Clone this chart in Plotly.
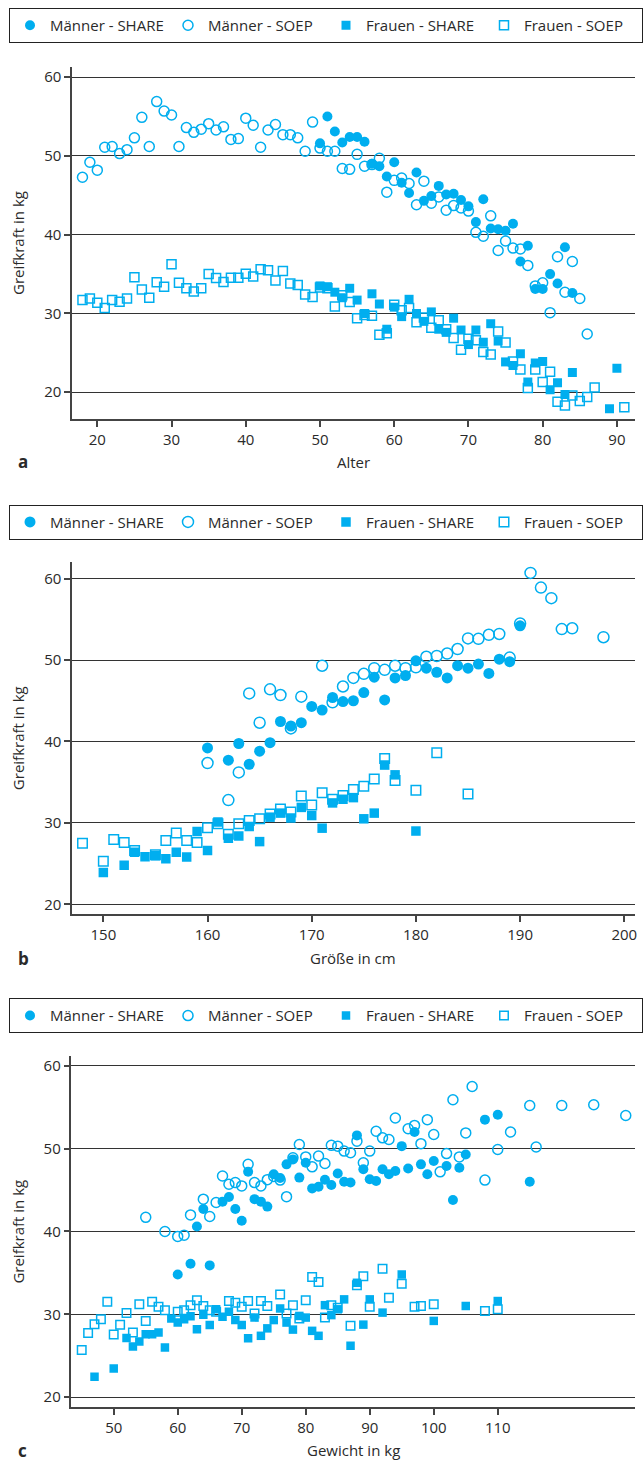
import plotly.graph_objects as go

W, H = 643, 1464
CYAN = '#00aeef'
FONT = 'Open Sans, Noto Sans, sans-serif'
TXT = '#2a2a2a'

# ---------------- Panel a: Alter ----------------
age_m_share = [50, 51, 52, 53, 54, 55, 56, 57, 58, 59, 60, 61, 62, 63, 64, 65, 66, 67,
               68, 69, 70, 71, 72, 73, 74, 75, 76, 77, 78, 79, 80, 81, 82, 83, 84]
grip_age_m_share = [51.6, 55.0, 53.1, 51.7, 52.4, 52.4, 51.8, 49.0, 48.7, 47.4, 49.2, 46.6,
                    45.3, 47.9, 44.3, 44.9, 46.2, 45.1, 45.2, 44.4, 43.6, 41.6, 44.5, 40.8,
                    40.7, 40.5, 41.4, 36.6, 38.6, 33.1, 33.1, 35.0, 33.8, 38.4, 32.6]
age_m_soep = list(range(18, 87))
grip_age_m_soep = [47.3, 49.2, 48.2, 51.1, 51.2, 50.3, 50.8, 52.3, 54.9, 51.2, 56.9, 55.7,
                   55.2, 51.2, 53.6, 53.0, 53.4, 54.1, 53.3, 53.7, 52.1, 52.2, 54.8, 53.9,
                   51.1, 53.3, 54.0, 52.7, 52.7, 52.3, 50.6, 54.3, 51.0, 50.6, 50.6, 48.4,
                   48.3, 50.2, 48.7, 48.9, 49.7, 45.4, 46.9, 47.2, 46.5, 43.8, 46.8, 44.0,
                   44.8, 43.1, 43.7, 43.4, 43.0, 40.3, 39.8, 42.4, 38.0, 39.2, 38.3, 38.2,
                   36.1, 33.5, 33.9, 30.1, 37.2, 32.7, 36.6, 31.9, 27.4]
age_w_share = [50, 51, 52, 53, 54, 55, 56, 57, 58, 59, 60, 61, 62, 63, 64, 65, 66, 67, 68,
               69, 70, 71, 72, 73, 74, 75, 76, 77, 78, 79, 80, 81, 82, 83, 84, 89, 90]
grip_age_w_share = [33.5, 33.4, 32.7, 32.0, 33.2, 31.7, 30.0, 32.5, 31.2, 28.0, 30.8, 29.6,
                    31.8, 30.0, 29.0, 30.2, 28.0, 27.6, 29.4, 27.9, 26.05, 27.9, 26.35, 28.7,
                    26.5, 23.85, 23.4, 24.9, 21.3, 23.7, 23.9, 20.3, 21.2, 19.7, 22.5, 17.9,
                    23.05]
age_w_soep = list(range(18, 88)) + [91]
grip_age_w_soep = [31.7, 31.9, 31.35, 30.7, 31.7, 31.5, 31.9, 34.6, 33.05, 32.0, 33.95, 33.4,
                   36.25, 33.9, 33.2, 32.8, 33.2, 35.0, 34.5, 34.0, 34.55, 34.55, 35.05, 34.7,
                   35.6, 35.5, 34.2, 35.4, 33.8, 33.6, 32.4, 32.1, 33.3, 33.2, 30.9, 32.3,
                   31.45, 29.4, 29.8, 29.7, 27.3, 27.5, 31.1, 30.4, 30.7, 28.9, 29.5, 28.2,
                   29.15, 28.0, 26.9, 25.4, 26.8, 26.6, 25.1, 24.8, 27.7, 26.3, 23.9, 22.9,
                   20.55, 22.9, 21.3, 22.6, 18.8, 18.3, 19.6, 18.9, 19.4, 20.6, 18.1]

# ---------------- Panel b: Größe ----------------
hgt_m_share = [160, 162, 163, 164, 165, 166, 167, 168, 169, 170, 171, 172, 173, 174, 175,
               176, 177, 178, 179, 180, 181, 182, 183, 184, 185, 186, 187, 188, 189, 190]
grip_hgt_m_share = [39.2, 37.7, 39.75, 37.2, 38.8, 39.85, 42.45, 41.9, 42.3, 44.3, 43.85,
                    45.4, 44.9, 45.0, 46.0, 47.9, 45.1, 47.8, 48.1, 49.9, 49.0, 48.5, 47.8,
                    49.3, 49.0, 49.5, 48.35, 50.1, 49.8, 54.2]
hgt_m_soep = [160, 162, 163, 164, 165, 166, 167, 168, 169, 171, 172, 173, 174, 175, 176, 177,
              178, 179, 180, 181, 182, 183, 184, 185, 186, 187, 188, 189, 190, 191, 192, 193,
              194, 195, 198]
grip_hgt_m_soep = [37.35, 32.8, 36.2, 45.9, 42.3, 46.4, 45.7, 41.6, 45.5, 49.3, 44.8, 46.75,
                   47.8, 48.3, 49.0, 48.8, 49.3, 49.0, 49.1, 50.4, 50.5, 50.8, 51.35, 52.65,
                   52.6, 53.1, 53.2, 50.3, 54.5, 60.7, 58.9, 57.6, 53.8, 53.9, 52.8]
hgt_w_share = [150, 152, 153, 154, 155, 156, 157, 158, 159, 160, 161, 162, 163, 164, 165,
               166, 167, 168, 169, 170, 171, 172, 173, 174, 175, 176, 177, 178, 180]
grip_hgt_w_share = [23.9, 24.8, 26.4, 25.85, 25.95, 25.6, 26.4, 25.8, 28.95, 26.6, 30.1,
                    28.1, 28.4, 29.55, 27.7, 30.7, 31.2, 30.6, 31.9, 30.9, 29.35, 32.45, 32.9,
                    33.1, 30.5, 31.2, 37.1, 35.9, 29.0]
hgt_w_soep = [148, 150, 151, 152, 153, 155, 156, 157, 158, 159, 160, 161, 162, 163, 164, 165,
              166, 167, 168, 169, 170, 171, 172, 173, 174, 175, 176, 177, 178, 180, 182, 185]
grip_hgt_w_soep = [27.5, 25.3, 27.95, 27.6, 26.6, 26.1, 27.85, 28.75, 27.85, 27.6, 29.4, 29.9,
                   28.6, 29.9, 30.3, 30.5, 31.1, 31.7, 31.35, 33.3, 32.2, 33.7, 32.9, 33.35,
                   34.1, 34.5, 35.4, 37.9, 35.2, 34.0, 38.6, 33.55]

# ---------------- Panel c: Gewicht ----------------
wgt_m_share = [60, 62, 63, 64, 65, 67, 68, 69, 70, 71, 72, 73, 74, 75, 76, 77, 78, 79, 80,
               81, 82, 83, 84, 85, 86, 87, 88, 89, 90, 91, 92, 93, 94, 95, 96, 97, 98, 99,
               100, 102, 103, 104, 105, 108, 110, 115]
grip_wgt_m_share = [34.8, 36.1, 40.6, 42.7, 35.9, 43.6, 44.15, 42.7, 41.3, 47.2, 43.9, 43.6,
                    43.0, 46.9, 46.45, 48.1, 48.7, 46.5, 48.3, 45.2, 45.4, 46.25, 45.6, 47.0,
                    46.0, 45.9, 51.6, 47.5, 46.3, 46.1, 47.5, 46.9, 47.3, 50.3, 47.6, 52.0,
                    48.1, 46.9, 48.5, 47.9, 43.8, 47.7, 49.3, 53.5, 54.1, 46.0]
wgt_m_soep = [55, 58, 60, 61, 62, 64, 65, 66, 67, 68, 69, 70, 71, 72, 73, 74, 75, 76, 77, 78,
              79, 80, 81, 82, 83, 84, 85, 86, 87, 88, 89, 90, 91, 92, 93, 94, 96, 97, 98, 99,
              100, 101, 102, 103, 104, 105, 106, 108, 110, 112, 115, 116, 120, 125, 130]
grip_wgt_m_soep = [41.7, 40.0, 39.4, 39.55, 42.0, 43.9, 41.8, 43.5, 46.7, 45.7, 45.9, 45.5,
                   48.1, 45.9, 45.5, 46.25, 46.65, 46.2, 44.2, 48.9, 50.5, 49.0, 47.8, 49.1,
                   48.2, 50.4, 50.3, 49.7, 49.5, 50.9, 48.3, 49.7, 52.1, 51.3, 51.1, 53.7,
                   52.4, 52.8, 50.6, 53.5, 51.7, 47.2, 49.4, 55.9, 49.0, 51.9, 57.5, 46.2,
                   49.9, 52.0, 55.2, 50.2, 55.2, 55.3, 54.0]
wgt_w_share = [47, 50, 52, 53, 54, 55, 56, 57, 58, 59, 60, 61, 62, 63, 64, 65, 66, 67, 68,
               69, 70, 71, 72, 73, 74, 75, 76, 77, 78, 79, 80, 81, 82, 83, 84, 85, 86, 87,
               88, 89, 90, 92, 95, 100, 105, 110]
grip_wgt_w_share = [22.45, 23.45, 27.15, 26.1, 26.7, 27.6, 27.6, 27.8, 26.0, 29.5, 29.0, 29.4,
                    29.75, 28.2, 29.95, 28.7, 30.6, 29.7, 30.3, 29.3, 28.7, 27.1, 29.6, 27.4,
                    28.3, 29.3, 30.7, 29.0, 28.15, 29.8, 29.6, 28.0, 27.4, 31.1, 29.9, 30.6,
                    31.8, 26.2, 33.8, 28.75, 31.8, 30.2, 34.8, 29.2, 31.0, 31.6]
wgt_w_soep = [45, 46, 47, 48, 49, 50, 51, 52, 53, 54, 55, 56, 57, 58, 60, 61, 62, 63, 64, 65,
              66, 68, 69, 70, 71, 72, 73, 74, 76, 77, 78, 79, 80, 81, 82, 83, 84, 85, 87, 88,
              89, 90, 92, 93, 95, 97, 98, 100, 108, 110]
grip_wgt_w_soep = [25.7, 27.75, 28.8, 29.4, 31.5, 27.55, 28.75, 30.15, 27.8, 31.2, 29.2, 31.5,
                   30.9, 30.5, 30.3, 30.5, 31.1, 31.7, 31.0, 30.5, 30.3, 31.6, 31.4, 30.9,
                   31.6, 30.1, 31.6, 31.0, 32.4, 30.1, 31.1, 29.5, 31.7, 34.5, 33.9, 29.6,
                   31.1, 30.8, 28.6, 33.5, 34.6, 30.9, 35.5, 32.0, 33.7, 30.9, 31.0, 31.2,
                   30.4, 30.6]

series_names = ['Männer - SHARE', 'Männer - SOEP', 'Frauen - SHARE', 'Frauen - SOEP']
y_ticks = [20, 30, 40, 50, 60]
x_ticks_a = [20, 30, 40, 50, 60, 70, 80, 90]
x_ticks_b = [150, 160, 170, 180, 190, 200]
x_ticks_c = [50, 60, 70, 80, 90, 100, 110]
x_titles = ['Alter', 'Größe in cm', 'Gewicht in kg']
panel_letters = ['a', 'b', 'c']
y_title = 'Greifkraft in kg'


def fx(px):
    return px / W


def fy(py):
    return 1 - py / H


panels = [
    dict(data=[(age_m_share, grip_age_m_share), (age_m_soep, grip_age_m_soep),
               (age_w_share, grip_age_w_share), (age_w_soep, grip_age_w_soep)],
         xdom=(72.3, 636.7), ydom=(66, 418.3), xr=[16.6, 92.4], yr=[16.6, 61.3],
         xt=x_ticks_a, csize=10, ssize=9, leg_top=7, title_y=461),
    dict(data=[(hgt_m_share, grip_hgt_m_share), (hgt_m_soep, grip_hgt_m_soep),
               (hgt_w_share, grip_hgt_w_share), (hgt_w_soep, grip_hgt_w_soep)],
         xdom=(72.3, 636.7), ydom=(561.7, 913.7), xr=[147.0, 201.0], yr=[18.8, 62.0],
         xt=x_ticks_b, csize=11, ssize=9.5, leg_top=504, title_y=958),
    dict(data=[(wgt_m_share, grip_wgt_m_share), (wgt_m_soep, grip_wgt_m_soep),
               (wgt_w_share, grip_wgt_w_share), (wgt_w_soep, grip_wgt_w_soep)],
         xdom=(71.7, 636.7), ydom=(1056, 1407), xr=[43.4, 131.4], yr=[18.8, 61.15],
         xt=x_ticks_c, csize=10, ssize=8.5, leg_top=998, title_y=1450),
]

symbols = ['circle', 'circle-open', 'square', 'square-open']
ranks = [1, 2, 3, 4]
draw_order = [1, 3, 0, 2]  # SOEP first, SHARE on top

fig = go.Figure()
layout = dict(
    width=W, height=H, margin=dict(l=0, r=0, t=0, b=0),
    paper_bgcolor='white', plot_bgcolor='white',
    font=dict(family=FONT, size=15, color=TXT),
    annotations=[],
)

for i, p in enumerate(panels):
    sfx = '' if i == 0 else str(i + 1)
    leg = 'legend' if i == 0 else f'legend{i + 1}'
    for k in draw_order:
        xs, ys = p['data'][k]
        size = p['csize'] if k < 2 else p['ssize']
        fig.add_trace(go.Scatter(
            x=xs, y=ys, mode='markers', name=series_names[k],
            xaxis='x' + sfx, yaxis='y' + sfx, legend=leg, legendrank=ranks[k],
            marker=dict(symbol=symbols[k], size=size, color=CYAN,
                        line=dict(color=CYAN, width=1.5 if 'open' in symbols[k] else 0)),
            hoverinfo='x+y',
        ))
    layout['xaxis' + sfx] = dict(
        domain=[fx(p['xdom'][0]), fx(p['xdom'][1])], range=p['xr'],
        anchor='y' + sfx, showline=True, linecolor='#444', linewidth=1.5,
        ticks='outside', ticklen=6, tickwidth=1.5, tickcolor='#444',
        tickvals=p['xt'], showgrid=False, zeroline=False,
        tickfont=dict(size=15, color=TXT, family=FONT),
    )
    layout['yaxis' + sfx] = dict(
        domain=[fy(p['ydom'][1]), fy(p['ydom'][0])], range=p['yr'],
        anchor='x' + sfx, showline=True, linecolor='#444', linewidth=1.5,
        ticks='outside', ticklen=6, tickwidth=1.5, tickcolor='#444',
        tickvals=y_ticks, showgrid=True, gridcolor='#333', gridwidth=1.4,
        zeroline=False, tickfont=dict(size=15, color=TXT, family=FONT),
    )
    layout[leg] = dict(
        orientation='h', x=fx(20), y=fy(p['leg_top']), xanchor='left', yanchor='top',
        bordercolor='#222', borderwidth=1, bgcolor='white',
        font=dict(size=15, color=TXT, family=FONT),
        entrywidth=113, entrywidthmode='pixels', itemwidth=30, traceorder='normal',
    )
    ymid = (p['ydom'][0] + p['ydom'][1]) / 2
    xmid = (p['xdom'][0] + p['xdom'][1]) / 2
    layout['annotations'] += [
        dict(text=y_title, xref='paper', yref='paper', x=fx(18), y=fy(ymid),
             textangle=-90, showarrow=False, xanchor='center', yanchor='middle',
             font=dict(size=15, color=TXT, family=FONT)),
        dict(text=x_titles[i], xref='paper', yref='paper', x=fx(xmid), y=fy(p['title_y']),
             showarrow=False, xanchor='center', yanchor='middle',
             font=dict(size=15, color=TXT, family=FONT)),
        dict(text='<b>' + panel_letters[i] + '</b>', xref='paper', yref='paper',
             x=fx(16), y=fy(p['title_y']), showarrow=False, xanchor='left', yanchor='middle',
             font=dict(size=17, color=TXT, family=FONT)),
    ]

fig.update_layout(**layout)
fig.write_html(
    'out.html',
    config={'displayModeBar': False},
    post_script="document.body.style.margin='0px';document.body.style.overflow='hidden';",
)
